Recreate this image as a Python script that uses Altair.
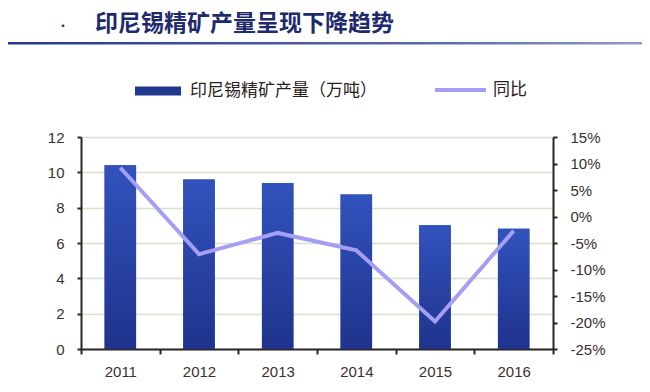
import altair as alt
import pandas as pd

years = ["2011", "2012", "2013", "2014", "2015", "2016"]
output = [10.4, 9.6, 9.4, 8.75, 7.0, 6.8]
yoy = [0.092, -0.071, -0.031, -0.064, -0.198, -0.027]
bar_label = "印尼锡精矿产量（万吨）"
line_label = "同比"
title_text = "印尼锡精矿产量呈现下降趋势"
left_ticks = [0, 2, 4, 6, 8, 10, 12]
right_ticks = [-0.25, -0.20, -0.15, -0.10, -0.05, 0.0, 0.05, 0.10, 0.15]

df = pd.DataFrame({"year": years, "output": output, "yoy": yoy,
                   "bar_s": [bar_label] * 6, "line_s": [line_label] * 6})
one = pd.DataFrame({"t": [title_text]})

CJK = "Noto Sans CJK SC"
NUM = "Liberation Sans"
AX = "#2b2424"
LBL = "#3a3030"

x_enc = alt.X("year:O", scale=alt.Scale(paddingInner=0, paddingOuter=0),
              axis=alt.Axis(title=None, labelAngle=0, tickBand="extent", domainColor=AX,
                            domainWidth=2, tickColor=AX, tickWidth=2, tickSize=5,
                            labelPadding=10, labelFont=NUM, labelFontSize=15,
                            labelColor=LBL, grid=False))

y_bar = alt.Y("output:Q", scale=alt.Scale(domain=[0, 12], nice=False),
              axis=alt.Axis(orient="left", values=left_ticks, title=None, grid=True,
                            gridColor="#d6e2cc", gridWidth=1.5, domainColor=AX, domainWidth=2,
                            tickColor=AX, tickWidth=2, tickSize=4, labelPadding=13,
                            labelFont=NUM, labelFontSize=15, labelColor=LBL,
                            labelOverlap=False))

bar_legend = alt.Chart(df).mark_bar(width=alt.RelativeBandSize(0.4)).encode(
    x=x_enc,
    y=y_bar,
    fill=alt.Fill("bar_s:N", scale=alt.Scale(domain=[bar_label], range=["#22388f"]),
                  legend=alt.Legend(title=None, orient="none", legendX=54, legendY=-69,
                                    symbolType="M-1,-0.2L1,-0.2L1,0.2L-1,0.2Z",
                                    symbolSize=2116, symbolStrokeWidth=0, labelFont=CJK,
                                    labelFontSize=17, labelColor="#2a2020", labelOffset=9,
                                    padding=0, labelLimit=400)),
)

bar_grad = alt.Chart(df).mark_bar(
    width=alt.RelativeBandSize(0.4),
    color=alt.Gradient(gradient="linear",
                       stops=[alt.GradientStop(color="#3252bd", offset=0),
                              alt.GradientStop(color="#1f338c", offset=1)],
                       x1=0, x2=0, y1=0, y2=1),
).encode(x=x_enc, y=y_bar)

bars = alt.layer(bar_legend, bar_grad)

line = alt.Chart(df).mark_line(strokeWidth=4).encode(
    x=x_enc,
    y=alt.Y("yoy:Q", scale=alt.Scale(domain=[-0.25, 0.15], nice=False),
            axis=alt.Axis(orient="right", values=right_ticks, title=None, grid=False,
                          labelExpr="(datum.value < 0 ? '-' : '') + format(abs(datum.value) * 100, '.0f') + '%'",
                          domainColor=AX, domainWidth=2, tickColor=AX, tickWidth=2,
                          tickSize=4, labelPadding=13, labelFont=NUM, labelFontSize=15,
                          labelColor=LBL, labelOverlap=False)),
    stroke=alt.Stroke("line_s:N", scale=alt.Scale(domain=[line_label], range=["#a59ef5"]),
                      legend=alt.Legend(title=None, orient="none", legendX=352, legendY=-74.5,
                                        symbolType="stroke", symbolSize=2601,
                                        symbolStrokeWidth=4, labelFont=CJK, labelFontSize=17,
                                        labelColor="#2a2020", labelOffset=5, padding=0)),
)

data_layer = alt.layer(bars, line).resolve_scale(y="independent")

title = alt.Chart(one).mark_text(align="left", baseline="middle", font=CJK, fontSize=23,
                                 fontWeight="bold", color="#1e2a6e").encode(
    x=alt.value(14), y=alt.value(-113), text="t:N")

dot = alt.Chart(one).mark_text(align="center", baseline="middle", font=CJK, fontSize=12,
                               color="#1e2a6e", text="·").encode(
    x=alt.value(-18), y=alt.value(-110))

underline = alt.Chart(one).mark_rect(
    color=alt.Gradient(gradient="linear",
                       stops=[alt.GradientStop(color="#243891", offset=0),
                              alt.GradientStop(color="#5a6db0", offset=0.7),
                              alt.GradientStop(color="#8e9cc8", offset=1)],
                       x1=0, x2=1, y1=0, y2=0)).encode(
    x=alt.value(-73), x2=alt.value(561), y=alt.value(-95), y2=alt.value(-92.5))

chart = alt.layer(data_layer, title, dot, underline).properties(
    width=472, height=212,
    autosize=alt.AutoSizeParams(type="none"),
    padding={"left": 73, "top": 129, "right": 89, "bottom": 35},
    background="white",
).configure_view(stroke=None)

chart.save("out.html", embed_options={"renderer": "svg", "actions": False})
